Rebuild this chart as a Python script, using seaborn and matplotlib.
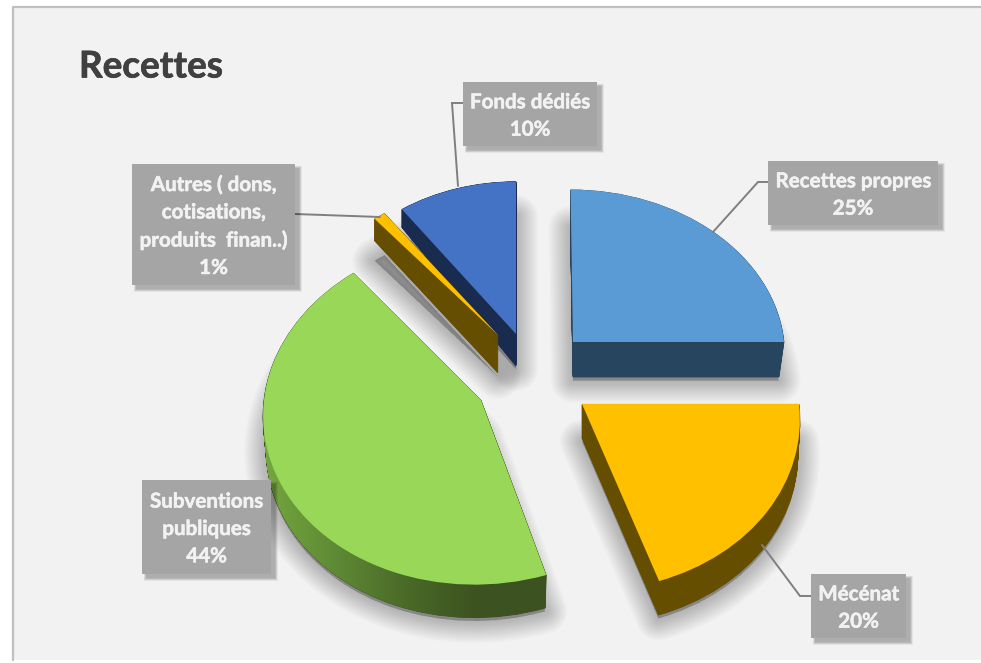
import numpy as np
import seaborn as sns
import matplotlib
matplotlib.use("Agg")
import matplotlib.pyplot as plt
import matplotlib.patheffects as pe
from matplotlib.colors import LinearSegmentedColormap
from matplotlib.patches import PathPatch, Rectangle
from matplotlib.path import Path
from matplotlib.transforms import Transform

title = "Recettes"
categories = ["Recettes propres", "Mécénat", "Subventions\npubliques",
              "Autres ( dons,\ncotisations,\nproduits  finan..)", "Fonds dédiés"]
shares = [25, 20, 44, 1, 10]

top_colors = ["#5b9bd5", "#ffc000", "#98d757", "#ffc000", "#4472c4"]
side_colors = ["#27455f", "#664e00", "#3d5420", "#664e00", "#1a2b50"]
green_side = ["#74a63e", "#5f8a35", "#4a6a28", "#3c5220", "#3c5220"]

# layout of each exploded slice (pixels)
apex_x = [573, 582, 481, 498, 516]
apex_y = [342, 404, 400, 335, 334]
radius_x = [211, 217, 217, 203, 204]
radius_y = [162, 175, 173, 158, 162]
skew = [2.6, 5.7, -6, 0, 0]
depth = [35, 34, 33, 38, 32]
grow_y = [0, 0, 0, 22, 18]
shrink_x = [5, 2, 3, 0, 0]
persp = 0.063

boxes = [(768, 161, 170, 64), (811, 574, 95, 64), (142, 480, 129, 94),
         (132, 164, 163, 121), (463, 82, 134, 64)]
leaders = [[(713, 232), (758, 182), (768, 182)],
           [(762, 545), (800, 596), (811, 596)],
           [],
           [(295, 214), (380, 217)],
           [(458, 186), (452, 103), (463, 103)]]

W, H = 981, 663


class Tilt(Transform):
    input_dims = 2
    output_dims = 2

    def __init__(self, i, t, grow=True):
        super().__init__()
        self.cx = apex_x[i]
        self.cy = apex_y[i] + depth[i] * t
        self.rx = radius_x[i] - shrink_x[i] * t
        self.ry = radius_y[i] + (grow_y[i] * t if grow else 0)
        self.s = skew[i]

    def transform_non_affine(self, xy):
        xy = np.asarray(xy, dtype=float)
        u, v = xy[:, 0], -xy[:, 1]
        w = 1 - persp * v
        return np.column_stack([self.cx + (self.rx * u + self.s * v) / w,
                                self.cy + self.ry * v / w])


sns.set_theme(style="white")
plt.rcParams["font.family"] = ["Lato", "DejaVu Sans"]

fig = plt.figure(figsize=(W / 100, H / 100), dpi=100, facecolor="white")
ax = fig.add_axes([0, 0, 1, 1])

ax.add_patch(Rectangle((12, 7), W, 653, facecolor="#f2f2f2", edgecolor="none", zorder=0))
ax.plot([13, 13, W], [660, 7, 7], color="#bfbfbf", lw=1.6, zorder=0.5)


def pie_layer(colors, t, zorder, seal=False, grow=True, **props):
    wedges, _ = ax.pie(shares, colors=colors, startangle=90, counterclock=False,
                       wedgeprops=props)
    for i, w in enumerate(wedges):
        w.set_transform(Tilt(i, t, grow) + ax.transData)
        w.set_zorder(zorder)
        if seal:
            w.set_edgecolor(w.get_facecolor())
            w.set_linewidth(0.6)
    return wedges


# soft shadow: stroked copies of the bottom face
for lw in np.arange(2, 34, 2):
    pie_layer(["#000000"] * 5, 1.1, 1, grow=False, alpha=0.014, linewidth=lw,
              edgecolor="#000000", joinstyle="round")

# extruded sides then the top face
green_paths = []
for t in np.linspace(1, 0.01, 50):
    ws = pie_layer(side_colors, t, 2, seal=True)
    green_paths.append(ws[2].get_path().transformed(Tilt(2, t)))

cmap = LinearSegmentedColormap.from_list("green_side", green_side)
im = ax.imshow(np.linspace(0, 1, 256)[None, :], cmap=cmap, aspect="auto",
               extent=(264, 548, 620, 400), zorder=3)
im.set_clip_path(PathPatch(Path.make_compound_path(*green_paths), transform=ax.transData))

pie_layer(sns.color_palette(top_colors), 0, 4, linewidth=0)

for pts in leaders:
    if pts:
        xs, ys = zip(*pts)
        ax.plot(xs, ys, color="#7f7f7f", lw=1.4, zorder=5, solid_joinstyle="miter")

for cat, share, (x, y, w, h) in zip(categories, shares, boxes):
    for grow in range(0, 6):
        ax.add_patch(Rectangle((x + 4 - grow / 2, y + 4 - grow / 2), w + grow, h + grow,
                               facecolor="black", edgecolor="none", alpha=0.05, zorder=6))
    ax.add_patch(Rectangle((x, y), w, h, facecolor="#a5a5a5", edgecolor="none", zorder=7))
    ax.text(x + w / 2, y + h / 2 + 2, f"{cat}\n{share}%", color="#f2f2f2", fontsize=14.8,
            fontweight="bold", ha="center", va="center", linespacing=1.46, zorder=8,
            path_effects=[pe.withStroke(linewidth=0.4, foreground="#f2f2f2")])

ax.text(79, 67, title, color="#404040", fontsize=26.5, fontweight="bold", ha="left", va="center",
        path_effects=[pe.withStroke(linewidth=0.5, foreground="#404040")])

ax.set_aspect("auto")
ax.set_xlim(0, W)
ax.set_ylim(H, 0)
ax.axis("off")

fig.savefig("out.png", dpi=100, facecolor="white")
